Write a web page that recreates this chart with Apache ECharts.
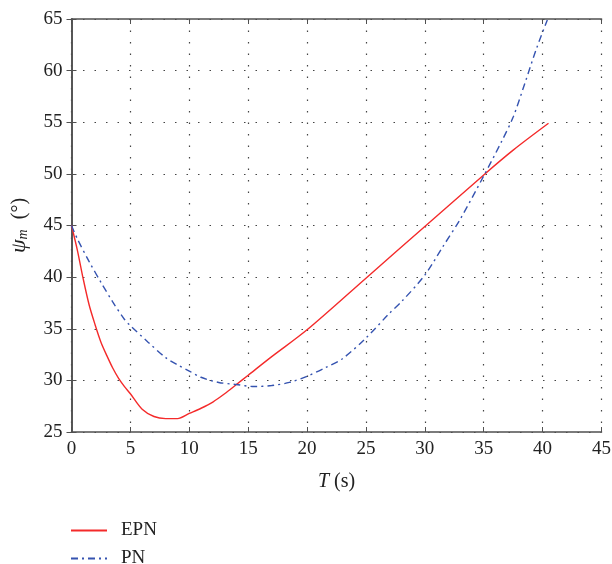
<!DOCTYPE html>
<html>
<head>
    <meta charset="utf-8">
    <title>EPN vs PN</title>
    <script src="https://cdn.jsdelivr.net/npm/echarts@6/dist/echarts.min.js"></script>
</head>
<body style="margin:0;background:#fff;">
    <div id="main" style="width: 612px;height:564px;"></div>
    <script type="text/javascript">
    // values
    var epnT = [0, 0.5, 1, 1.5, 2, 2.5, 3, 3.5, 4, 4.5, 5, 6, 7, 8, 9, 10, 11, 12, 13, 14, 15, 17, 20, 25, 30, 35, 37.5, 40.5];
    var epnV = [45, 42.6, 39.8, 37.3, 35.4, 33.7, 32.4, 31.2, 30.2, 29.4, 28.7, 27.2, 26.5, 26.3, 26.3, 26.8, 27.3, 27.9, 28.7, 29.6, 30.5, 32.3, 34.9, 39.9, 44.9, 49.9, 52.3, 54.9];

    var pnT = [0, 0.5, 1.5, 2.5, 3.5, 4.5, 5, 6.5, 8, 9, 10, 11, 12.5, 14, 15.5, 17, 18.5, 20, 21.5, 23, 25, 27, 28, 30, 31.5, 33, 35, 36.5, 37.5, 38.5, 39.5, 40.4];
    var pnV = [45, 43.7, 41.5, 39.5, 37.6, 35.9, 35.3, 33.7, 32.2, 31.5, 30.9, 30.3, 29.8, 29.6, 29.4, 29.5, 29.8, 30.4, 31.2, 32.1, 34.1, 36.5, 37.6, 40.2, 42.9, 45.6, 49.8, 53.1, 55.5, 58.8, 62.2, 64.9];

    var seriesNames = ['EPN', 'PN'];

    function pairs(xs, ys) {
        return xs.map(function (x, i) { return [x, ys[i]]; });
    }

    var font = 'Liberation Serif';
    var axisColor = '#505050';

    // one legend block per series, stacked below the plot
    function legendFor(name, top) {
        return {
            data: [name],
            left: 70,
            top: top,
            padding: 0,
            itemWidth: 36,
            itemHeight: 14,
            itemStyle: { opacity: 0 },
            textStyle: { fontFamily: font, fontSize: 19, color: '#222', padding: [0, 0, 0, 9] }
        };
    }

    var myChart = echarts.init(document.getElementById('main'));

    var option = {
        animation: false,
        textStyle: { fontFamily: font },
        grid: { left: 71.5, right: 10.5, top: 19, bottom: 132, outerBoundsMode: 'none' },
        legend: [legendFor(seriesNames[0], 521), legendFor(seriesNames[1], 549)],
        xAxis: [{
            type: 'value',
            min: 0, max: 45, interval: 5,
            name: '{i|T} (s)',
            nameLocation: 'middle',
            nameGap: 40,
            nameTextStyle: {
                fontFamily: font, fontSize: 20, color: '#222',
                rich: { i: { fontFamily: font, fontSize: 20, fontStyle: 'italic', color: '#222' } }
            },
            axisLine: { show: true, lineStyle: { color: axisColor, width: 1.6 } },
            axisTick: { show: true, inside: true, length: 5, lineStyle: { color: axisColor } },
            axisLabel: { fontFamily: font, fontSize: 19, color: '#222', margin: 8 },
            splitLine: { show: true, lineStyle: { color: '#444', type: [1.5, 10], width: 1.2 } }
        }, {
            type: 'value',
            position: 'top',
            min: 0, max: 45, interval: 5,
            axisLine: { show: true, lineStyle: { color: axisColor, width: 1.6 } },
            axisTick: { show: true, inside: true, length: 5, lineStyle: { color: axisColor } },
            axisLabel: { show: false },
            splitLine: { show: false }
        }],
        yAxis: [{
            type: 'value',
            min: 25, max: 65, interval: 5,
            name: '{i|ψ}{s|m}  (°)',
            nameLocation: 'middle',
            nameGap: 41,
            nameRotate: 90,
            nameTextStyle: {
                fontFamily: font, fontSize: 20, color: '#222',
                rich: {
                    i: { fontFamily: font, fontSize: 22, fontStyle: 'italic', color: '#222' },
                    s: { fontFamily: font, fontSize: 14, fontStyle: 'italic', color: '#222', verticalAlign: 'bottom', padding: [8, 0, 0, 0] }
                }
            },
            axisLine: { show: true, lineStyle: { color: axisColor, width: 1.6 } },
            axisTick: { show: true, inside: true, length: 5, lineStyle: { color: axisColor } },
            axisLabel: { fontFamily: font, fontSize: 19, color: '#222', margin: 9 },
            splitLine: { show: true, lineStyle: { color: '#444', type: [1.5, 10], width: 1.2 } }
        }, {
            type: 'value',
            position: 'right',
            min: 25, max: 65, interval: 5,
            axisLine: { show: true, lineStyle: { color: axisColor, width: 1.6 } },
            axisTick: { show: true, inside: true, length: 5, lineStyle: { color: axisColor } },
            axisLabel: { show: false },
            splitLine: { show: false }
        }],
        series: [{
            name: 'EPN',
            type: 'line',
            data: pairs(epnT, epnV),
            showSymbol: false,
            symbol: 'none',
            smooth: 0.3,
            lineStyle: { color: '#f42a2a', width: 1.4 },
            itemStyle: { color: '#f42a2a' }
        }, {
            name: 'PN',
            type: 'line',
            data: pairs(pnT, pnV),
            showSymbol: false,
            symbol: 'none',
            smooth: 0.3,
            lineStyle: { color: '#3553b0', width: 1.4, type: [7, 4, 2, 4] },
            itemStyle: { color: '#3553b0' }
        }]
    };

    myChart.setOption(option);
    </script>
</body>
</html>
